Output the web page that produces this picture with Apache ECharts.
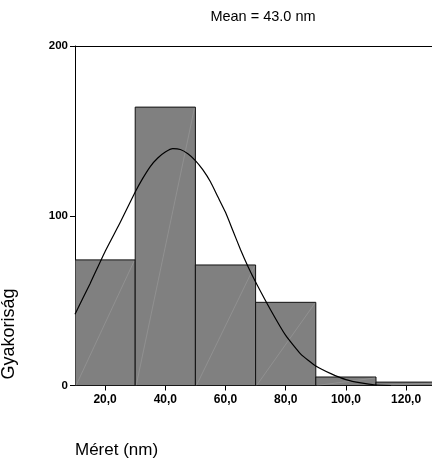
<!DOCTYPE html>
<html>
<head>
<meta charset="utf-8">
<script src="https://cdn.jsdelivr.net/npm/echarts@6/dist/echarts.min.js"></script>
<style>html,body{margin:0;padding:0;background:#fff}#c{width:432px;height:463px}</style>
</head>
<body>
<div id="c"></div>
<script>
// ---- data ----
var binStarts = [10, 30, 50, 70, 90, 110];
var binEnds   = [30, 50, 70, 90, 110, 130];
var counts    = [74, 164, 71, 49, 5, 2];
var curveX = [10, 15, 20, 25, 30, 32.5, 35, 37.5, 40, 42.5, 45, 47.5, 50, 52.5, 55, 57.5, 60, 62.5, 65, 67.5, 70, 75, 80, 85, 90, 95, 100, 105, 110, 115];
var curveY = [42, 60, 79, 96, 114, 122, 129, 134, 137.5, 139.5, 139, 136.5, 132.5, 127, 120, 111, 102, 91, 80, 70, 61, 44.5, 29.5, 18.5, 11.5, 7, 3.5, 1.5, 0.3, 0];
var xTicks = [20, 40, 60, 80, 100, 120];
var yTicks = [0, 100, 200];
var titleText = 'Mean = 43.0 nm';
var xName = 'Méret (nm)';
var yName = 'Gyakoriság';

var FONT = '"Liberation Sans", Arial, sans-serif';
var chart = echarts.init(document.getElementById('c'), null, {renderer: 'canvas'});

var barData = binStarts.map(function (s, i) { return [s, binEnds[i], counts[i]]; });
var curveData = curveX.map(function (x, i) { return [x, curveY[i]]; });

function fmtX(v) { return Number(v).toFixed(1).replace('.', ','); }

var option = {
  animation: false,
  backgroundColor: '#fff',
  grid: {left: 75, top: 46, right: 0, bottom: 77.5, containLabel: false},
  xAxis: [{
    type: 'value', min: 10, max: 128.6, position: 'bottom',
    axisLine: {show: true, lineStyle: {color: '#000', width: 1}},
    axisTick: {show: true, length: 5, lineStyle: {color: '#000'}, customValues: xTicks},
    axisLabel: {show: true, customValues: xTicks, formatter: fmtX, color: '#000',
      fontFamily: FONT, fontSize: 12, fontWeight: 'bold', margin: 8},
    splitLine: {show: false}
  }, {
    type: 'value', min: 10, max: 128.6, position: 'top',
    axisLine: {show: true, onZero: false, lineStyle: {color: '#000', width: 1}},
    axisTick: {show: false}, axisLabel: {show: false}, splitLine: {show: false}
  }],
  yAxis: {
    type: 'value', min: 0, max: 200, interval: 100,
    axisLine: {show: true, lineStyle: {color: '#000', width: 1}},
    axisTick: {show: true, length: 5, lineStyle: {color: '#000'}},
    axisLabel: {color: '#000', fontFamily: FONT, fontSize: 11.5, fontWeight: 'bold', margin: 7},
    splitLine: {show: false}
  },
  series: [{
    type: 'custom',
    clip: true,
    data: barData,
    renderItem: function (params, api) {
      var p0 = api.coord([api.value(0), 0]);
      var p1 = api.coord([api.value(1), api.value(2)]);
      var x = p0[0], y = p1[1], w = p1[0] - p0[0], h = p0[1] - p1[1];
      return {
        type: 'group',
        children: [{
          type: 'rect',
          shape: {x: x, y: y, width: w, height: h},
          style: {fill: '#808080', stroke: '#111', lineWidth: 1}
        }, {
          type: 'line',
          shape: {x1: x + 1, y1: p0[1], x2: p1[0] - 1, y2: y + 1},
          style: {stroke: '#a0a0a0', lineWidth: 0.5}
        }]
      };
    },
    z: 2
  }, {
    type: 'line',
    data: curveData,
    smooth: 0.15,
    showSymbol: false,
    lineStyle: {color: '#000', width: 1.2},
    clip: true,
    z: 3
  }],
  graphic: [{
    type: 'text', x: 263, y: 17,
    style: {text: titleText, fill: '#000', font: '14.5px ' + FONT, textAlign: 'center', textVerticalAlign: 'middle'}
  }, {
    type: 'text', x: 75, y: 450,
    style: {text: xName, fill: '#000', font: '17px ' + FONT, textAlign: 'left', textVerticalAlign: 'middle'}
  }, {
    type: 'text', x: 9, y: 334, rotation: Math.PI / 2,
    style: {text: yName, fill: '#000', font: '18px ' + FONT, textAlign: 'center', textVerticalAlign: 'middle'}
  }]
};
chart.setOption(option);
</script>
</body>
</html>
